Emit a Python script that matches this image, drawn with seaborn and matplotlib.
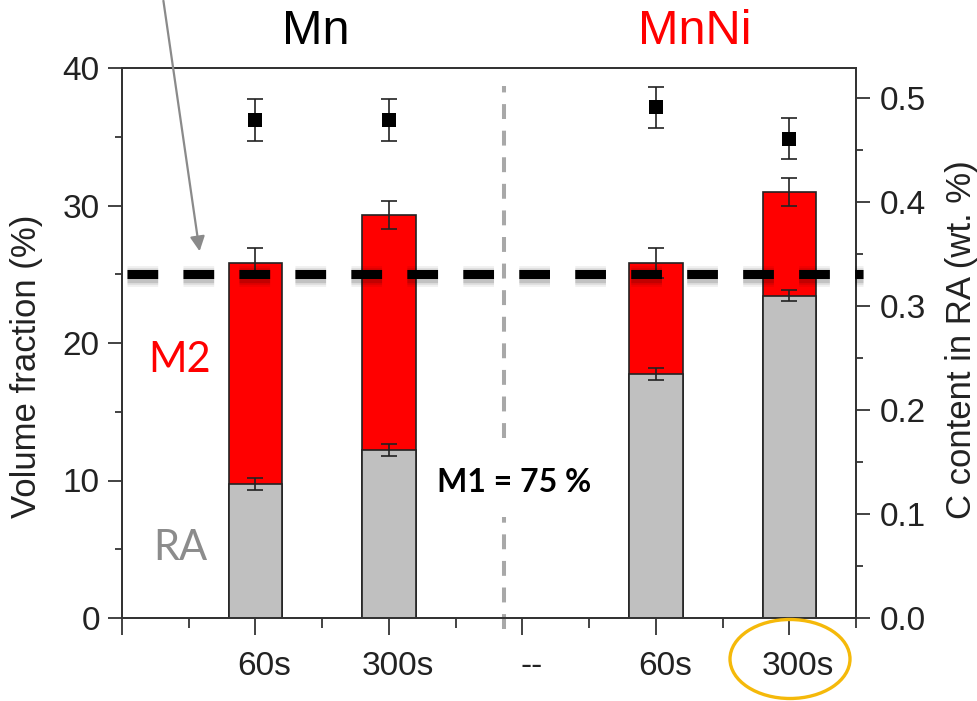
import matplotlib
matplotlib.use("Agg")
import numpy as np
import pandas as pd
import matplotlib.pyplot as plt
import matplotlib.patheffects as pe
from matplotlib.patches import Ellipse, FancyArrowPatch
from matplotlib.transforms import ScaledTranslation
import seaborn as sns

# ---- data ---------------------------------------------------------------
bar_pos = [1, 2, 4, 5]
tick_pos = [0, 1, 2, 3, 4, 5]
tick_labels = ["", "60s", "300s", "--", "60s", "300s"]
groups = ["Mn", "MnNi"]

ra_frac = [9.75, 12.2, 17.75, 23.45]        # retained austenite, vol. %
ra_err = [0.42, 0.42, 0.45, 0.42]
total_frac = [25.8, 29.3, 25.8, 31.0]       # RA + M2, vol. %
total_err = [1.1, 1.0, 1.1, 1.0]
c_content = [0.479, 0.479, 0.491, 0.461]    # C in RA, wt. %
c_err = [0.02, 0.02, 0.02, 0.02]
m1_level = 25.0

df = pd.DataFrame({"pos": bar_pos, "ra": ra_frac, "total": total_frac,
                   "c": c_content})

# ---- style --------------------------------------------------------------
sns.set_style("ticks")
plt.rcParams["font.family"] = ["Liberation Sans", "DejaVu Sans"]
dark = "#222222"

W, H = 977, 701
fig = plt.figure(figsize=(W / 100, H / 100), dpi=100)
ax = fig.add_axes([122 / W, 1 - 618 / H, (856 - 122) / W, (618 - 68) / H])


def fx(px):
    return px / W


def fy(py):
    return 1 - py / H


# stacked bars: full height (M2, red) with RA (grey) on top of it
sns.barplot(data=df, x="pos", y="total", native_scale=True, width=0.4,
            color="#ff0000", saturation=1, edgecolor=dark, linewidth=1.2,
            errorbar=None, ax=ax, zorder=2)
sns.barplot(data=df, x="pos", y="ra", native_scale=True, width=0.4,
            color="#c0c0c0", saturation=1, edgecolor=dark, linewidth=1.2,
            errorbar=None, ax=ax, zorder=2)

ax.errorbar(bar_pos, total_frac, yerr=total_err, fmt="none", ecolor=dark,
            elinewidth=1.2, capsize=5.5, capthick=1.2, zorder=3)
ax.errorbar(bar_pos, ra_frac, yerr=ra_err, fmt="none", ecolor=dark,
            elinewidth=1.2, capsize=5.5, capthick=1.2, zorder=3)

ax.set_xlim(0, 5.5)
ax.set_ylim(0, 40)
ax.set_xlabel("")
ax.set_ylabel("")
ax.set_xticks(tick_pos)
ax.set_xticklabels(tick_labels)
ax.set_xticks(np.arange(0.5, 5.6, 1.0), minor=True)
ax.set_yticks([0, 10, 20, 30, 40])
ax.set_yticks([5, 15, 25, 35], minor=True)
ax.tick_params(axis="y", which="major", direction="out", length=10,
               width=1.2, labelsize=24, pad=6, colors=dark)
ax.tick_params(axis="y", which="minor", direction="out", length=5,
               width=1.2, colors=dark)
ax.tick_params(axis="x", which="major", direction="out", length=12,
               width=1.2, labelsize=24, pad=12, colors=dark)
ax.tick_params(axis="x", which="minor", direction="out", length=7,
               width=1.2, colors=dark)
for lab in ax.get_xticklabels():
    lab.set_transform(lab.get_transform() +
                      ScaledTranslation(9 / 100, 0, fig.dpi_scale_trans))

# carbon content on the right axis
ax2 = ax.twinx()
sns.scatterplot(data=df, x="pos", y="c", marker="s", s=100, color="black",
                edgecolor="black", linewidth=0, ax=ax2, zorder=4)
ax2.errorbar(bar_pos, c_content, yerr=c_err, fmt="none", ecolor=dark,
             elinewidth=1.2, capsize=5.5, capthick=1.2, zorder=3)
ax2.set_ylim(0, 0.5288)
ax2.set_xlim(0, 5.5)
ax2.set_ylabel("")
ax2.set_yticks([0.0, 0.1, 0.2, 0.3, 0.4, 0.5])
ax2.set_yticklabels(["0.0", "0.1", "0.2", "0.3", "0.4", "0.5"])
ax2.set_yticks([0.05, 0.15, 0.25, 0.35, 0.45], minor=True)
ax2.tick_params(axis="y", which="major", direction="out", length=10,
                width=1.2, labelsize=24, pad=7, colors=dark)
ax2.tick_params(axis="y", which="minor", direction="out", length=5,
                width=1.2, colors=dark)

for a in (ax, ax2):
    for s in a.spines.values():
        s.set_visible(True)
        s.set_color("#333333")
        s.set_linewidth(1.3)

# M1 threshold: thick dashed line with a soft, layered shadow
shadow = [pe.SimpleLineShadow(offset=(0, -1.5), shadow_color="black",
                              alpha=a, linewidth=lw)
          for a, lw in [(0.06, 15), (0.08, 12), (0.12, 9.5)]]
ax2.plot([0.04, 5.55], [m1_level, m1_level], transform=ax.transData,
         color="black", lw=6.5, dashes=(3.4, 2.8), solid_capstyle="butt",
         dash_capstyle="butt", clip_on=False, zorder=6,
         path_effects=shadow + [pe.Normal()])

# grey separator between the two alloys, broken around the M1 label
for y0, y1 in [(-0.8, 7.35), (13.1, 38.7)]:
    ax.plot([2.86, 2.86], [y0, y1], color="#a8a8a8", lw=2.9,
            dashes=(3.7, 2.9), clip_on=False, zorder=1)

ax.text(2.94, 9.16, "M1 = 75 %", fontsize=23, fontweight="bold",
        family=["Lato", "DejaVu Sans"], ha="center", va="baseline",
        color="black", zorder=7)
ax.text(0.434, 17.9, "M2", fontsize=30, family=["Lato", "DejaVu Sans"],
        ha="center", va="baseline", color="#ff0000", zorder=7)
ax.text(0.434, 4.2, "RA", fontsize=30, family=["Lato", "DejaVu Sans"],
        ha="center", va="baseline", color="#8c8c8c", zorder=7)

# group headers
fig.text(fx(316), fy(31), groups[0], fontsize=35, ha="center", va="center",
         color="black")
fig.text(fx(695), fy(31), groups[1], fontsize=35, ha="center", va="center",
         color="#ff0000")

# axis titles
fig.text(fx(27), fy(366), "Volume fraction (%)", fontsize=25, rotation=90,
         ha="center", va="center", color=dark)
fig.text(fx(962), fy(340), "C content in RA (wt. %)", fontsize=25,
         rotation=90, ha="center", va="center", color=dark)

# pointer arrow to the M1 line
arrow = FancyArrowPatch((fx(163), fy(-2)), (fx(200), fy(254)),
                        transform=fig.transFigure, arrowstyle="-|>",
                        mutation_scale=22, color="#8a8a8a", lw=1.6)
fig.add_artist(arrow)

# highlight ring around the last label
ring = Ellipse((fx(790), fy(659)), 120 / W, 79 / H, transform=fig.transFigure,
               fill=False, edgecolor="#f5b90a", lw=2.4)
fig.add_artist(ring)

fig.savefig("out.png", dpi=100)
